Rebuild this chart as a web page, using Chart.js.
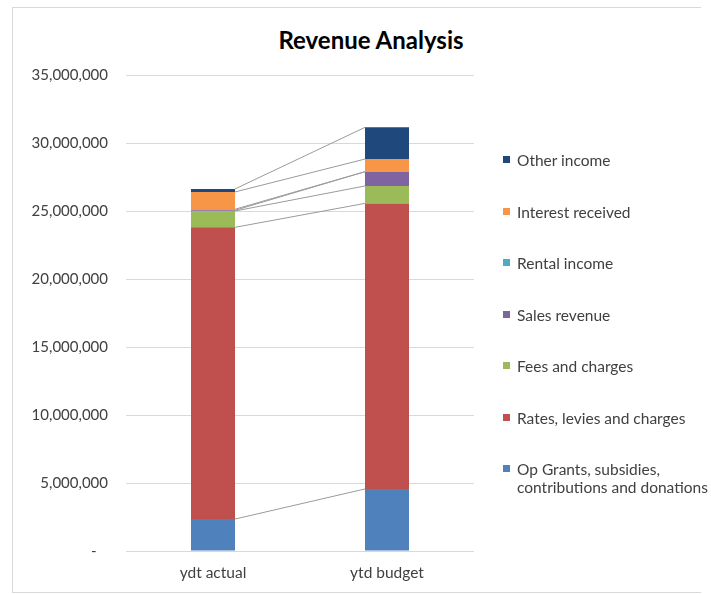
<!DOCTYPE html>
<html>
<head>
<meta charset="utf-8">
<script src="https://cdn.jsdelivr.net/npm/chart.js@4/dist/chart.umd.min.js"></script>
<style>
  html, body { margin: 0; padding: 0; background: #fff; }
  body { width: 711px; height: 594px; position: relative; overflow: hidden; font-family: Lato, "Open Sans", sans-serif; }
  #frame { position: absolute; left: 12px; top: 7px; width: 688px; height: 584px; border: 1px solid #d9d9d9; border-right: none; }
  #c { position: absolute; left: 0; top: 0; }
  #title { position: absolute; left: 221px; width: 300px; top: 25px; text-align: center; font-weight: bold; font-size: 24px; line-height: 30px; color: #000; white-space: nowrap; }
  .lg { position: absolute; left: 503px; font-size: 15.5px; color: #404040; line-height: 18px; }
  .lg .sw { position: absolute; left: 0; top: 5px; width: 7px; height: 7px; }
  .lg .tx { position: absolute; left: 14px; top: 0; width: 205px; }
</style>
</head>
<body>
<div id="frame"></div>
<div id="title">Revenue Analysis</div>
<canvas id="c" width="711" height="594"></canvas>
<div id="legend"></div>
<script>
// ---- data ----
const categories = ["ydt actual", "ytd budget"];
const seriesNames = [
  "Op Grants, subsidies, contributions and donations",
  "Rates, levies and charges",
  "Fees and charges",
  "Sales revenue",
  "Rental income",
  "Interest received",
  "Other income"
];
const opGrants     = [2350000, 4560000];
const ratesLevies  = [21450000, 21000000];
const feesCharges  = [1200000, 1280000];
const salesRevenue = [50000, 1050000];
const rentalIncome = [80000, 0];
const interestRec  = [1270000, 930000];
const otherIncome  = [220000, 2330000];
const yTicks = [0, 5000000, 10000000, 15000000, 20000000, 25000000, 30000000, 35000000];

const seriesValues = [opGrants, ratesLevies, feesCharges, salesRevenue, rentalIncome, interestRec, otherIncome];
const seriesColors = ["#4F81BD", "#C0504D", "#9BBB59", "#8064A2", "#4BACC6", "#F79646", "#1F497D"];

const datasets = seriesNames.map((n, i) => ({
  label: n,
  data: seriesValues[i],
  backgroundColor: seriesColors[i],
  borderWidth: 0,
  barPercentage: 0.253,
  categoryPercentage: 1.0
}));

const seriesLines = {
  id: 'seriesLines',
  afterDatasetsDraw(chart) {
    const ctx = chart.ctx;
    ctx.save();
    ctx.strokeStyle = '#9a9a9a';
    ctx.lineWidth = 1;
    chart.data.datasets.forEach((ds, i) => {
      const meta = chart.getDatasetMeta(i);
      const a = meta.data[0], b = meta.data[1];
      if (!a || !b) return;
      ctx.beginPath();
      ctx.moveTo(a.x + a.width / 2, a.y);
      ctx.lineTo(b.x - b.width / 2, b.y);
      ctx.stroke();
    });
    ctx.restore();
  }
};

new Chart(document.getElementById('c'), {
  type: 'bar',
  data: { labels: categories, datasets },
  plugins: [seriesLines],
  options: {
    responsive: false,
    devicePixelRatio: 1,
    animation: false,
    layout: { padding: { left: 0, right: 237, top: 75, bottom: 0 } },
    plugins: { legend: { display: false }, title: { display: false }, tooltip: { enabled: false } },
    scales: {
      x: {
        stacked: true,
        grid: { display: false, drawTicks: false },
        border: { display: false },
        ticks: { color: '#404040', font: { family: 'Lato', size: 15.5 }, padding: 13 },
        afterFit(s) { s.height = 43; }
      },
      y: {
        stacked: true,
        min: 0, max: 35000000,
        afterBuildTicks(s) { s.ticks = yTicks.map(v => ({ value: v })); },
        grid: { color: '#d9d9d9', drawTicks: false },
        border: { display: false },
        ticks: {
          color: '#404040', font: { family: 'Lato', size: 15 }, padding: 18,
          callback: v => v === 0 ? '-   ' : v.toLocaleString('en-US')
        },
        afterFit(s) { s.width = 126; }
      }
    }
  }
});

// ---- legend (reverse order, as in reference) ----
const lg = document.getElementById('legend');
const order = seriesNames.map((_, i) => i).reverse();
order.forEach((idx, k) => {
  const d = document.createElement('div');
  d.className = 'lg';
  d.style.top = (151 + k * 51.5) + 'px';
  d.innerHTML = '<span class="sw" style="background:' + seriesColors[idx] + '"></span><span class="tx"></span>';
  d.querySelector('.tx').textContent = seriesNames[idx];
  lg.appendChild(d);
});
</script>
</body>
</html>
